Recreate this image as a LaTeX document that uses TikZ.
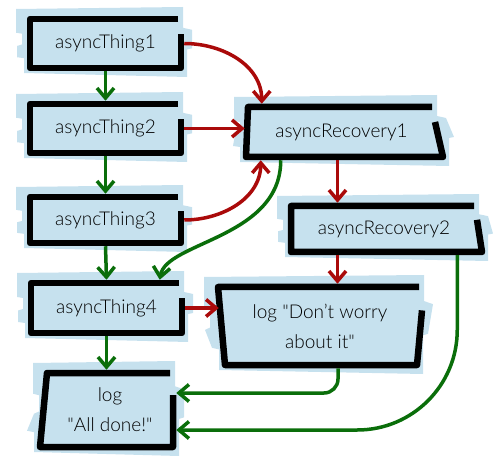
\documentclass[tikz,border=0pt]{standalone}
\usepackage{fontspec}
\setmainfont{Lato}[UprightFont=* Light]
\usetikzlibrary{arrows.meta,calc}
\definecolor{tapeblue}{RGB}{198,225,238}
\definecolor{arrred}{RGB}{170,10,10}
\definecolor{arrgreen}{RGB}{10,110,10}
\tikzset{
  tape/.style={fill=tapeblue},
  frame/.style={draw=black,line width=6.5pt,line join=round},
  boxtext/.style={inner sep=0pt,outer sep=3.25pt,align=center,font=\fontsize{19}{30}\selectfont},
  conn/.style={line width=3.5pt,-{Straight Barb[length=10pt,width=17pt]}},
  redarr/.style={conn,draw=arrred},
  grnarr/.style={conn,draw=arrgreen},
}
% #1 name, #2 L, #3 T, #4 R, #5 B, #6 bottom-left shift, #7 bottom-right shift, #8 text
\newcommand\skbox[8]{%
  \pgfmathsetmacro\hh{#5-#3}%
  \fill[tape] ({#2-14},{#3-10}) -- ({#4+2},{#3-12}) -- ({#4+2},{#3+0.18*\hh})
    -- ({#4+11},{#3+0.22*\hh}) -- ({#4+#7+11},{#3+0.6*\hh}) -- ({#4+#7+6},{#3+0.62*\hh})
    -- ({#4+#7+6},{#5+9}) -- ({#2+#6-6},{#5+5}) -- ({#2+#6-6},{#5-0.2*\hh})
    -- ({#2+#6-13},{#5-0.22*\hh}) -- ({#2-13},{#3+0.55*\hh}) -- ({#2-8},{#3+0.52*\hh})
    -- ({#2-8},{#3+0.3*\hh}) -- ({#2-14},{#3+0.28*\hh}) -- cycle;
  \node[boxtext,minimum width={(#4-#2)*1pt},minimum height={\hh*1pt}] (#1) at ({(#2+#4)/2},{(#3+#5)/2}) {#8};
  \draw[frame] ({#4-3},#3) -- (#2,#3) -- ({#2+#6},#5) -- ({#4+#7},#5) -- (#4,{#3+0.3*\hh});
}
\begin{document}
\begin{tikzpicture}[x=1pt,y=-1pt]
\useasboundingbox (0,0) rectangle (498,470);
\skbox{t1}{30}{19}{181}{68}{0}{0}{asyncThing1}
\skbox{t2}{30}{104}{181}{153}{0}{0}{asyncThing2}
\skbox{t3}{30}{197}{181}{243}{0}{0}{asyncThing3}
\skbox{t4}{31}{283}{182}{333}{0}{0}{asyncThing4}
\skbox{done}{47}{373}{173}{447}{-7}{0}{log\\\textquotedbl All done!\textquotedbl}
\skbox{r1}{248}{107}{435}{157}{-2}{8}{asyncRecovery1}
\skbox{r2}{291}{206}{477}{252}{0}{5}{asyncRecovery2}
\skbox{d1}{218}{287}{422}{365}{7}{-5}{log \textquotedbl Don't worry\\about it\textquotedbl}
% success chain
\draw[grnarr] (t1.south) -- (t2.north);
\draw[grnarr] (t2.south) -- (t3.north);
\draw[grnarr] (t3.south) -- (t4.north);
\draw[grnarr] (t4.south) -- (t4.south |- done.north);
% failures
\draw[redarr] (t1.east) to[out=0,in=90] ($(r1.north west)+(17,0)$);
\draw[redarr] (t2.east) -- (t2.east -| r1.west);
\draw[redarr] (t3.east) to[out=0,in=-90] ($(r1.south west)+(16,0)$);
\coordinate (g1) at ($(r1.south west)+(36,0)$);
\coordinate (g2) at ($(t4.north west)+(132,0)$);
\draw[grnarr] (g1) .. controls ($(g1)+(0,78)$) and ($(g2)+(6,-38)$) .. (g2);
\coordinate (a1) at ($(r1.south)+(-4,0)$);
\draw[redarr] (a1) -- (a1 |- r2.north);
\draw[redarr] (a1 |- r2.south) -- (a1 |- d1.north);
\draw[redarr] (t4.east) -- ($(t4.east -| d1.west)+(4,0)$);
\coordinate (a2) at ($(d1.south)+(18,0)$);
\coordinate (e1) at ($(done.east)+(0,-17)$);
\draw[grnarr,rounded corners=14pt] (a2) |- (e1);
\coordinate (a3) at ($(r2.south east)+(-23,0)$);
\coordinate (e2) at ($(done.east)+(0,20)$);
\draw[grnarr,rounded corners=100pt] (a3) |- (e2);
\end{tikzpicture}
\end{document}
